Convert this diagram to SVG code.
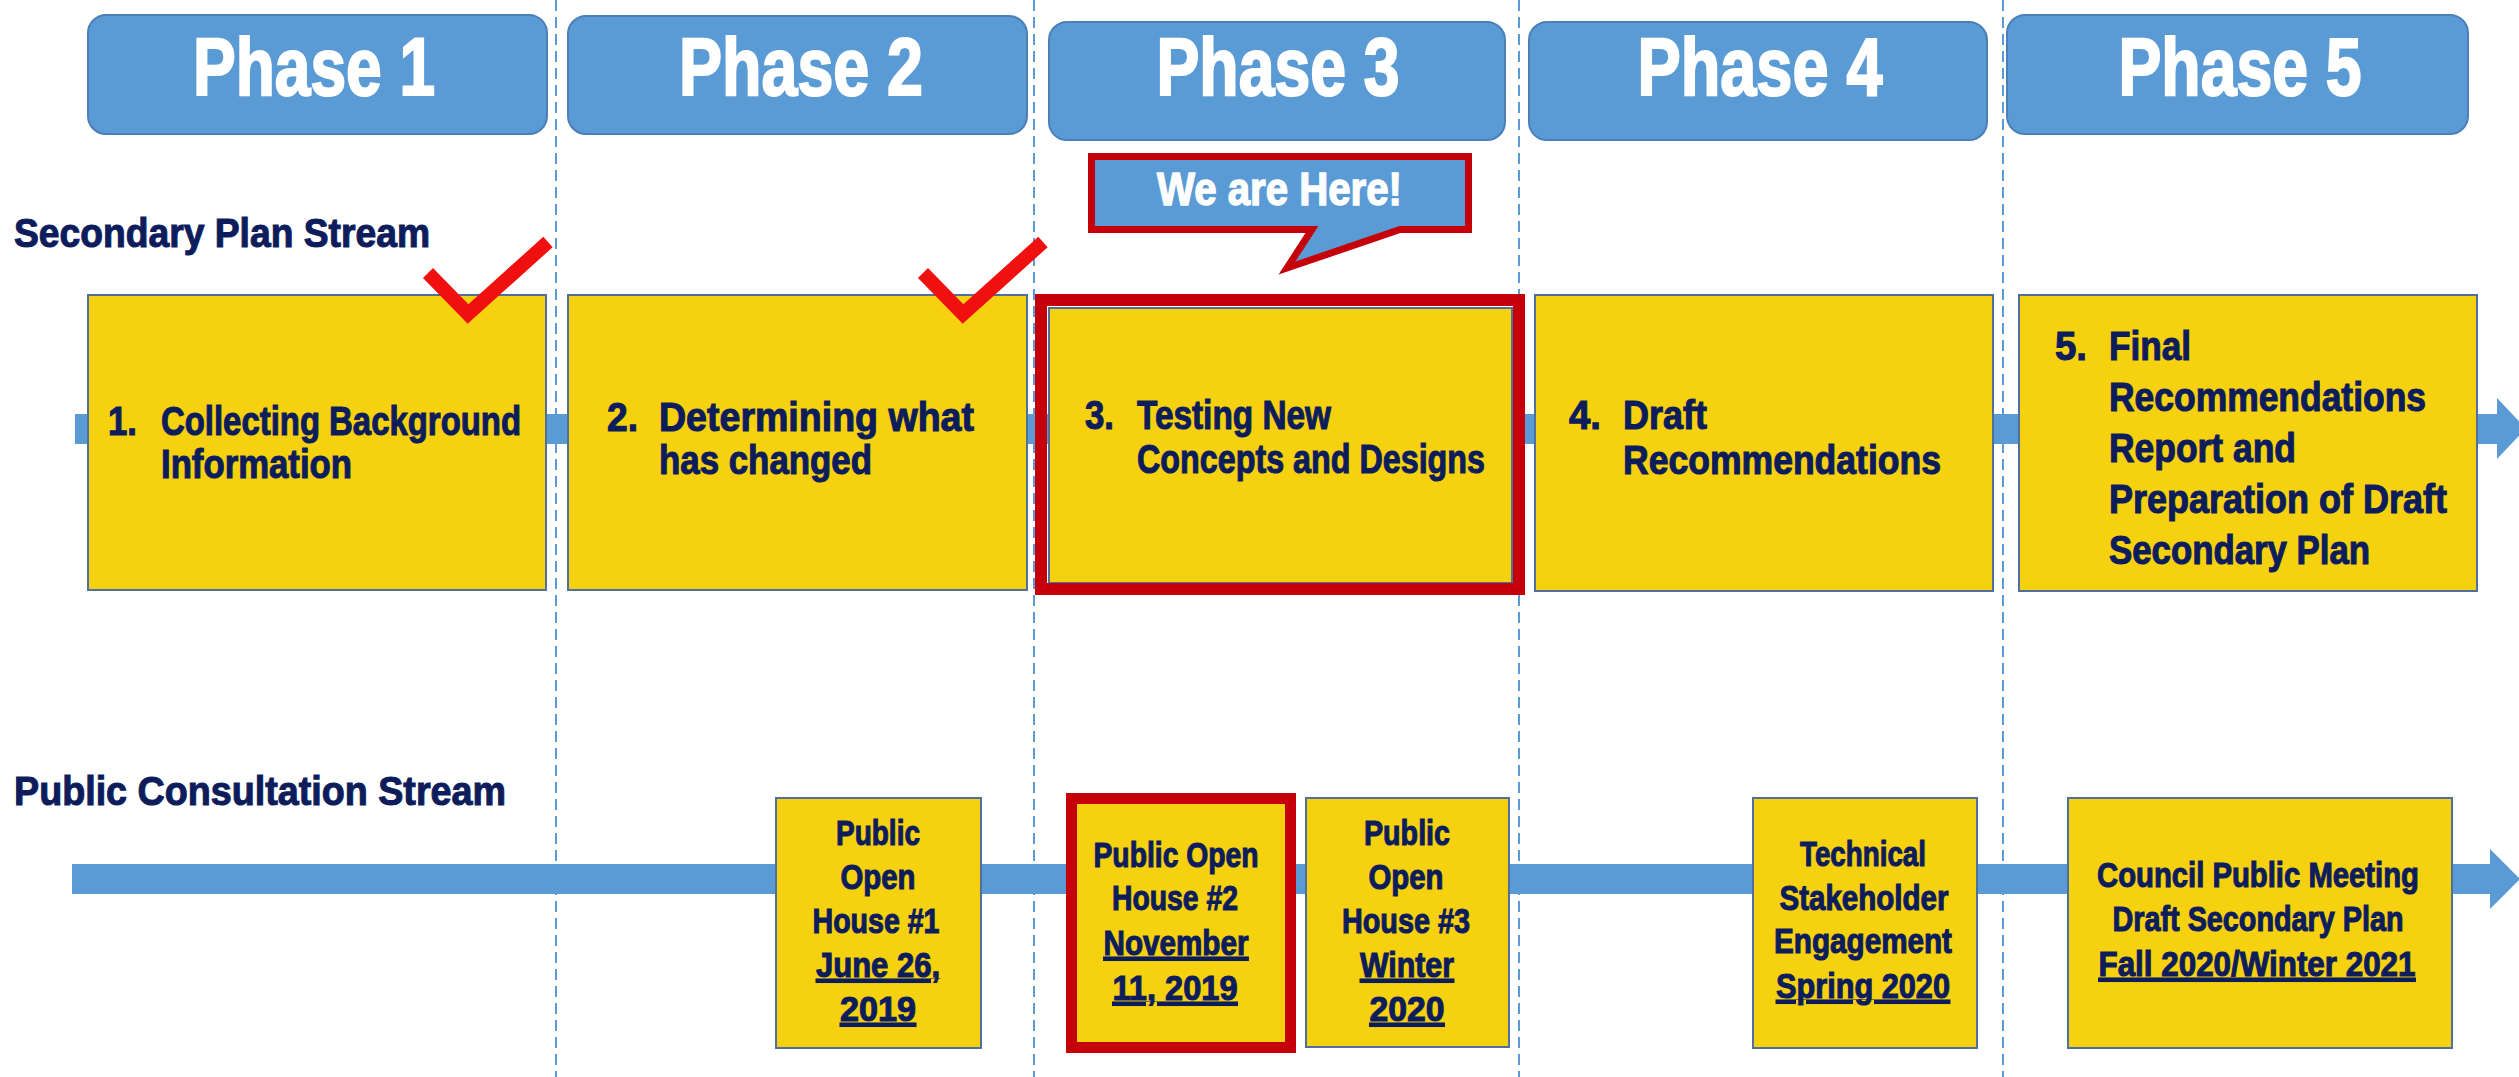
<svg xmlns="http://www.w3.org/2000/svg" width="2519" height="1077" viewBox="0 0 2519 1077">
<style>
.sep{stroke:#5b9bd5;stroke-width:2;stroke-dasharray:11 6;fill:none}
.flow{fill:#5b9bd5}
.phase rect{fill:#5b9bd5;stroke:#4a7fb8;stroke-width:2}
.phase text{font-family:"Liberation Sans",Arial,sans-serif;font-weight:bold;font-size:81px;fill:#ffffff;stroke:#ffffff;stroke-width:2.2;text-anchor:middle}
.ybox{fill:#f6d10f;stroke:#4f6f9e;stroke-width:2}
.red{fill:none;stroke:#c5000b}
.t{font-family:"Liberation Sans",Arial,sans-serif;font-weight:bold;fill:#0d1d5c;stroke:#0d1d5c;stroke-width:1.1}
.s{font-size:40px}
.b{font-size:35px;text-anchor:middle}
.u{text-decoration:underline}
.lbl{font-size:41px}
.check{fill:none;stroke:#f01010;stroke-width:14;stroke-linejoin:miter}
</style>
<rect width="2519" height="1077" fill="#ffffff"/>
<g id="separators">
<line class="sep" x1="556" y1="0" x2="556" y2="1077"/>
<line class="sep" x1="1034" y1="0" x2="1034" y2="1077"/>
<line class="sep" x1="1519" y1="0" x2="1519" y2="1077"/>
<line class="sep" x1="2003" y1="0" x2="2003" y2="1077"/>
</g>
<g id="connectors">
<path class="flow" d="M75,414 H2497 V398 L2526,428.5 L2497,459 V444 H75 Z"/>
<path class="flow" d="M72,864 H2490 V849 L2520,879 L2490,909 V894 H72 Z"/>
</g>
<g id="phase1" class="phase"><rect x="88" y="15" width="459" height="119" rx="18"/><text x="314" y="95" textLength="242" lengthAdjust="spacingAndGlyphs">Phase 1</text></g>
<g id="phase2" class="phase"><rect x="568" y="16" width="459" height="118" rx="18"/><text x="801" y="95" textLength="244" lengthAdjust="spacingAndGlyphs">Phase 2</text></g>
<g id="phase3" class="phase"><rect x="1049" y="22" width="456" height="118" rx="18"/><text x="1278" y="95" textLength="243" lengthAdjust="spacingAndGlyphs">Phase 3</text></g>
<g id="phase4" class="phase"><rect x="1529" y="22" width="458" height="118" rx="18"/><text x="1760" y="95" textLength="245" lengthAdjust="spacingAndGlyphs">Phase 4</text></g>
<g id="phase5" class="phase"><rect x="2007" y="15" width="461" height="119" rx="18"/><text x="2240" y="95" textLength="243" lengthAdjust="spacingAndGlyphs">Phase 5</text></g>
<g id="label-secondary"><text class="t lbl" x="14" y="247" textLength="416" lengthAdjust="spacingAndGlyphs">Secondary Plan Stream</text></g>
<g id="label-public"><text class="t lbl" x="14" y="805" textLength="492" lengthAdjust="spacingAndGlyphs">Public Consultation Stream</text></g>
<g id="callout">
<path d="M1091.5,156.5 H1468.5 V229.5 H1400 L1287,268 L1312,229.5 H1091.5 Z" fill="#5b9bd5" stroke="#c5000b" stroke-width="7" stroke-linejoin="miter"/>
<text x="1157" y="205" font-family="Liberation Sans, Arial, sans-serif" font-weight="bold" font-size="46" fill="#ffffff" stroke="#ffffff" stroke-width="1.4" textLength="245" lengthAdjust="spacingAndGlyphs">We are Here!</text>
</g>
<g id="step1">
<rect class="ybox" x="88" y="295" width="458" height="295"/>
<text class="t s" x="108" y="435" textLength="29" lengthAdjust="spacingAndGlyphs">1.</text>
<text class="t s" x="161" y="435" textLength="360" lengthAdjust="spacingAndGlyphs">Collecting Background</text>
<text class="t s" x="161" y="478" textLength="191" lengthAdjust="spacingAndGlyphs">Information</text>
</g>
<g id="step2">
<rect class="ybox" x="568" y="295" width="459" height="295"/>
<text class="t s" x="607" y="431" textLength="31" lengthAdjust="spacingAndGlyphs">2.</text>
<text class="t s" x="659" y="431" textLength="315" lengthAdjust="spacingAndGlyphs">Determining what</text>
<text class="t s" x="659" y="474" textLength="213" lengthAdjust="spacingAndGlyphs">has changed</text>
</g>
<g id="step3">
<rect class="ybox" x="1049" y="308" width="463" height="275"/>
<rect class="red" x="1041" y="300" width="478" height="289" stroke-width="12"/>
<text class="t s" x="1085" y="429" textLength="29" lengthAdjust="spacingAndGlyphs">3.</text>
<text class="t s" x="1137" y="429" textLength="194" lengthAdjust="spacingAndGlyphs">Testing New</text>
<text class="t s" x="1137" y="473" textLength="348" lengthAdjust="spacingAndGlyphs">Concepts and Designs</text>
</g>
<g id="step4">
<rect class="ybox" x="1535" y="295" width="458" height="296"/>
<text class="t s" x="1569" y="429" textLength="32" lengthAdjust="spacingAndGlyphs">4.</text>
<text class="t s" x="1623" y="429" textLength="84" lengthAdjust="spacingAndGlyphs">Draft</text>
<text class="t s" x="1623" y="474" textLength="318" lengthAdjust="spacingAndGlyphs">Recommendations</text>
</g>
<g id="step5">
<rect class="ybox" x="2019" y="295" width="458" height="296"/>
<text class="t s" x="2055" y="360" textLength="32" lengthAdjust="spacingAndGlyphs">5.</text>
<text class="t s" x="2109" y="360" textLength="82" lengthAdjust="spacingAndGlyphs">Final</text>
<text class="t s" x="2109" y="411" textLength="317" lengthAdjust="spacingAndGlyphs">Recommendations</text>
<text class="t s" x="2109" y="462" textLength="187" lengthAdjust="spacingAndGlyphs">Report and</text>
<text class="t s" x="2109" y="513" textLength="338" lengthAdjust="spacingAndGlyphs">Preparation of Draft</text>
<text class="t s" x="2109" y="564" textLength="261" lengthAdjust="spacingAndGlyphs">Secondary Plan</text>
</g>
<g id="checks">
<path class="check" d="M428,273 L468,314 L548,242"/>
<path class="check" d="M923,273 L963,314 L1043,242"/>
</g>
<g id="openhouse1">
<rect class="ybox" x="776" y="798" width="205" height="250"/>
<text class="t b" x="878" y="845" textLength="84" lengthAdjust="spacingAndGlyphs">Public</text>
<text class="t b" x="878" y="889" textLength="75" lengthAdjust="spacingAndGlyphs">Open</text>
<text class="t b" x="876" y="933" textLength="127" lengthAdjust="spacingAndGlyphs">House #1</text>
<text class="t b u" x="878" y="977" textLength="124" lengthAdjust="spacingAndGlyphs">June 26,</text>
<text class="t b u" x="878" y="1021" textLength="76" lengthAdjust="spacingAndGlyphs">2019</text>
</g>
<g id="openhouse2">
<rect class="ybox" x="1076" y="803" width="210" height="240"/>
<rect class="red" x="1071.5" y="798.5" width="219" height="249" stroke-width="11"/>
<text class="t b" x="1176" y="867" textLength="165" lengthAdjust="spacingAndGlyphs">Public Open</text>
<text class="t b" x="1175" y="910" textLength="126" lengthAdjust="spacingAndGlyphs">House #2</text>
<text class="t b u" x="1176" y="955" textLength="145" lengthAdjust="spacingAndGlyphs">November</text>
<text class="t b u" x="1175" y="1000" textLength="125" lengthAdjust="spacingAndGlyphs">11, 2019</text>
</g>
<g id="openhouse3">
<rect class="ybox" x="1306" y="798" width="203" height="249"/>
<text class="t b" x="1407" y="845" textLength="86" lengthAdjust="spacingAndGlyphs">Public</text>
<text class="t b" x="1406" y="889" textLength="75" lengthAdjust="spacingAndGlyphs">Open</text>
<text class="t b" x="1406" y="933" textLength="128" lengthAdjust="spacingAndGlyphs">House #3</text>
<text class="t b u" x="1407" y="977" textLength="94" lengthAdjust="spacingAndGlyphs">Winter</text>
<text class="t b u" x="1407" y="1021" textLength="75" lengthAdjust="spacingAndGlyphs">2020</text>
</g>
<g id="technical">
<rect class="ybox" x="1753" y="798" width="224" height="250"/>
<text class="t b" x="1863" y="866" textLength="126" lengthAdjust="spacingAndGlyphs">Technical</text>
<text class="t b" x="1864" y="910" textLength="169" lengthAdjust="spacingAndGlyphs">Stakeholder</text>
<text class="t b" x="1863" y="953" textLength="178" lengthAdjust="spacingAndGlyphs">Engagement</text>
<text class="t b u" x="1863" y="998" textLength="174" lengthAdjust="spacingAndGlyphs">Spring 2020</text>
</g>
<g id="council">
<rect class="ybox" x="2068" y="798" width="384" height="250"/>
<text class="t b" x="2258" y="887" textLength="322" lengthAdjust="spacingAndGlyphs">Council Public Meeting</text>
<text class="t b" x="2258" y="931" textLength="291" lengthAdjust="spacingAndGlyphs">Draft Secondary Plan</text>
<text class="t b u" x="2257" y="976" textLength="317" lengthAdjust="spacingAndGlyphs">Fall 2020/Winter 2021</text>
</g>
</svg>
